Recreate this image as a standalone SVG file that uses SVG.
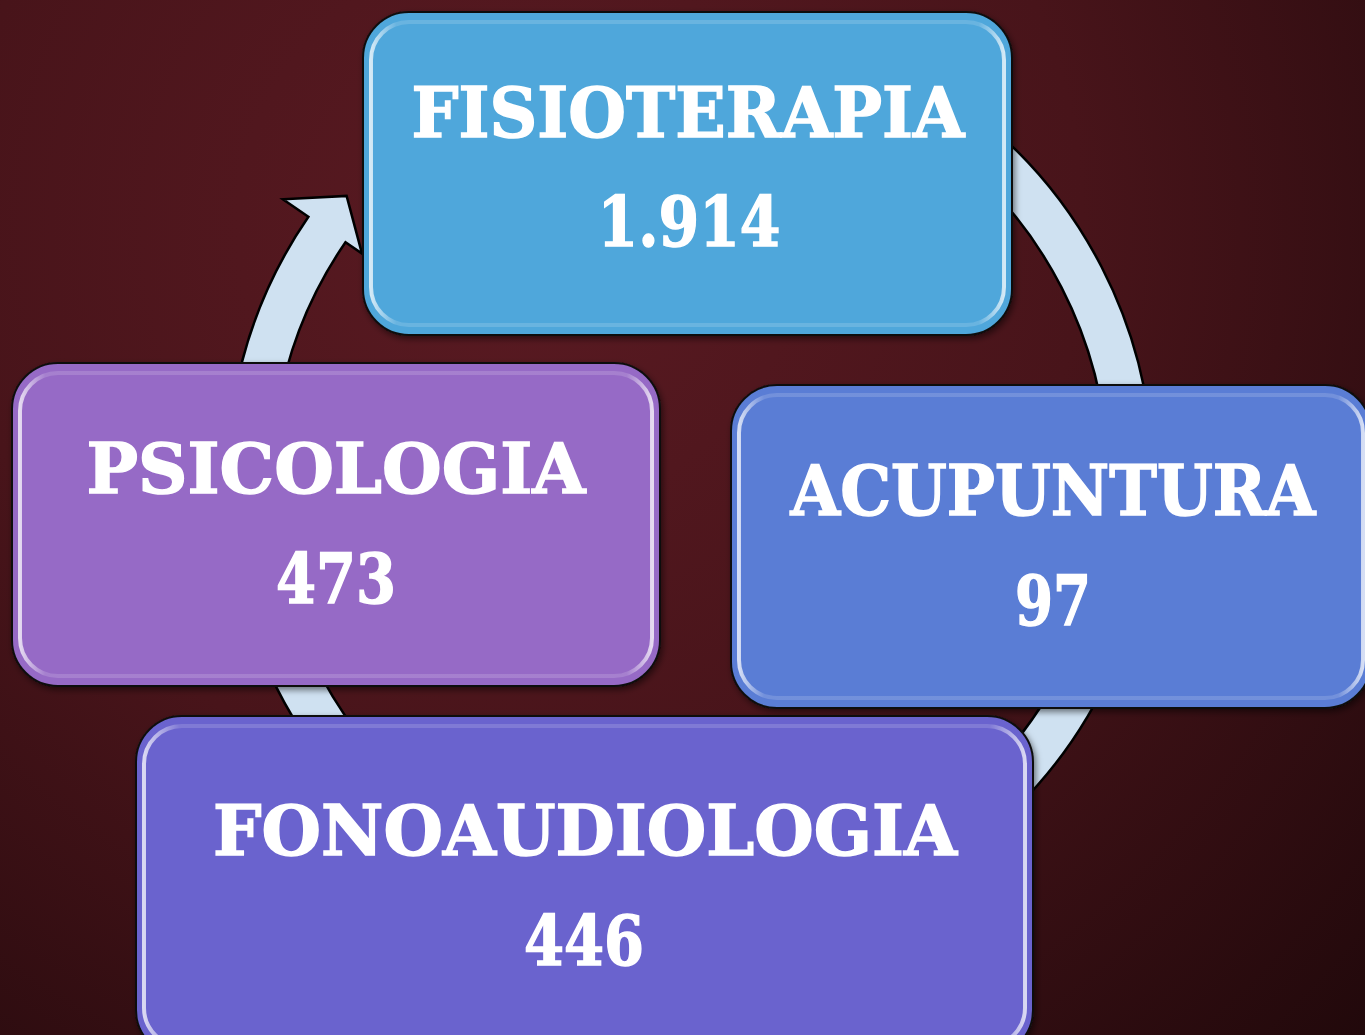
<svg xmlns="http://www.w3.org/2000/svg" width="1365" height="1035" viewBox="0 0 1365 1035">
<defs>
<radialGradient id="bg" cx="520" cy="230" r="1250" gradientUnits="userSpaceOnUse">
<stop offset="0" stop-color="#5a1a22"/>
<stop offset="0.45" stop-color="#48141a"/>
<stop offset="1" stop-color="#1c0709"/>
</radialGradient>
<linearGradient id="gloss" x1="0" y1="0" x2="1" y2="0">
<stop offset="0" stop-color="#ffffff" stop-opacity="0.75"/>
<stop offset="0.04" stop-color="#ffffff" stop-opacity="0.15"/>
<stop offset="0.96" stop-color="#ffffff" stop-opacity="0.15"/>
<stop offset="1" stop-color="#ffffff" stop-opacity="0.75"/>
</linearGradient>
<filter id="sh" x="-10%" y="-10%" width="120%" height="120%">
<feDropShadow dx="2" dy="3" stdDeviation="3" flood-color="#000" flood-opacity="0.5"/>
</filter>
</defs>
<style>
.box{stroke:#111;stroke-width:2;filter:url(#sh)}
.hl{fill:none;stroke:url(#gloss);stroke-width:4}
.t{font-family:"DejaVu Serif","Liberation Serif",serif;font-weight:bold;font-size:70px;fill:#fff;stroke:#fff;stroke-width:1.5;text-anchor:middle}
.ring{fill:#cfe1f1;stroke:#000;stroke-width:2.5;stroke-linejoin:miter}
</style>
<rect width="1365" height="1035" fill="url(#bg)"/>
<g id="connectors">
<path class="ring" d="M531.7,43.9 A463,463 0 1 1 308.4,216.8 L282.9,199.2 L346.6,195.9 L362,253.6 L345.5,242.2 A418,418 0 1 0 547,86.2 Z"/>
</g>
<g id="node-fisioterapia">
<rect class="box" x="363" y="12" width="649" height="323" rx="46" fill="#50a7db"/>
<rect class="hl" x="371" y="22" width="633" height="303" rx="38"/>
<text class="t" x="688" y="137" textLength="553" lengthAdjust="spacingAndGlyphs">FISIOTERAPIA</text>
<text class="t" x="689" y="246" textLength="183" lengthAdjust="spacingAndGlyphs">1.914</text>
</g>
<g id="node-psicologia">
<rect class="box" x="12" y="363" width="648" height="323" rx="46" fill="#966bc6"/>
<rect class="hl" x="20" y="373" width="632" height="303" rx="38"/>
<text class="t" x="336" y="493" textLength="499" lengthAdjust="spacingAndGlyphs">PSICOLOGIA</text>
<text class="t" x="336" y="603" textLength="120" lengthAdjust="spacingAndGlyphs">473</text>
</g>
<g id="node-acupuntura">
<rect class="box" x="731" y="385" width="640" height="323" rx="46" fill="#5a7dd5"/>
<rect class="hl" x="739" y="395" width="624" height="303" rx="38"/>
<text class="t" x="1053" y="515" textLength="525" lengthAdjust="spacingAndGlyphs">ACUPUNTURA</text>
<text class="t" x="1053" y="625" textLength="76" lengthAdjust="spacingAndGlyphs">97</text>
</g>
<g id="node-fonoaudiologia">
<rect class="box" x="136" y="716" width="897" height="340" rx="46" fill="#6b64ce"/>
<rect class="hl" x="144" y="726" width="881" height="320" rx="38"/>
<text class="t" x="585" y="855" textLength="744" lengthAdjust="spacingAndGlyphs">FONOAUDIOLOGIA</text>
<text class="t" x="584" y="965" textLength="120" lengthAdjust="spacingAndGlyphs">446</text>
</g>
</svg>
